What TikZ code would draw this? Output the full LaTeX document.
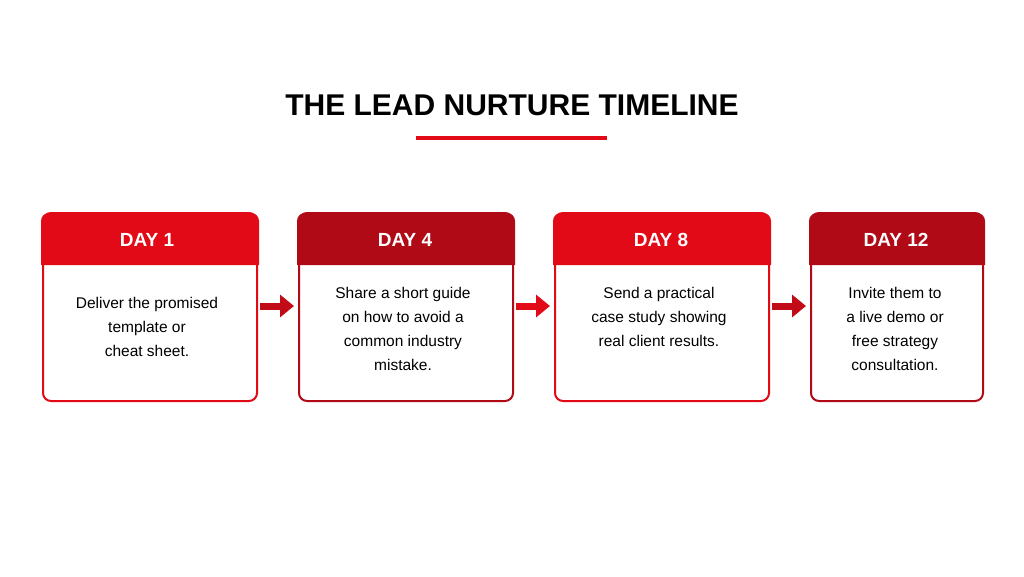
\documentclass[tikz,border=0pt]{standalone}
\usepackage{fontspec}
\setmainfont{Liberation Sans}
\definecolor{rA}{HTML}{E30A17}
\definecolor{rB}{HTML}{B00A16}
\definecolor{rC}{HTML}{C20A18}
\begin{document}
\begin{tikzpicture}[x=1pt,y=-1pt,
  card/.style={draw=#1,line width=2pt,rounded corners=8pt,fill=white,inner sep=0pt},
  head/.style={font=\bfseries\fontsize{19}{22}\selectfont,text=white},
  body/.style={font=\fontsize{15.5}{24}\selectfont,align=center,text=black},
  arr/.style={draw=#1,line width=7pt,-{Triangle[length=14pt,width=22pt]}, shorten <=0pt}]
\usetikzlibrary{arrows.meta}
\useasboundingbox (0,0) rectangle (1024,576);
\node[font=\bfseries\fontsize{30}{34}\selectfont] (title) at (512,105) {THE LEAD NURTURE TIMELINE};
\coordinate (u1) at (416,138); \coordinate (u2) at (607,138);
\draw[rA,line width=3.5pt] (u1) -- (u2);
\newcommand\mycard[7]{%
  \node[card=#2,minimum width=#4 pt,minimum height=188pt,anchor=north west] (#1) at (#3,212) {};
  \fill[#2,rounded corners=8pt] ([xshift=-1pt]#1.north west) -- ([xshift=1pt,yshift=-1pt]#1.north east) [sharp corners] -- ([xshift=1pt]#1.north east |- 0,265) -- ([xshift=-1pt]#1.north west |- 0,265) -- cycle;
  \fill[#2,rounded corners=8pt] ([xshift=-1pt,yshift=1pt]#1.north west) -- ([xshift=1pt,yshift=1pt]#1.north east) [sharp corners] -- ([xshift=1pt]#1.north east |- 0,265) -- ([xshift=-1pt]#1.north west |- 0,265) [rounded corners=8pt] -- cycle;
  \node[head] (#1h) at ([yshift=28pt]#1.north) {#5};
  \node[body] (#1b) at (#6,#7) {};
}
\node[card=rA,minimum width=214pt,minimum height=188pt,anchor=north west] (c1) at (42,212) {};
\node[card=rB,minimum width=214pt,minimum height=188pt,anchor=north west] (c2) at (298,212) {};
\node[card=rA,minimum width=214pt,minimum height=188pt,anchor=north west] (c3) at (554,212) {};
\node[card=rB,minimum width=172pt,minimum height=188pt,anchor=north west] (c4) at (810,212) {};
\foreach \c/\col in {c1/rA,c2/rB,c3/rA,c4/rB}{
  \fill[\col,rounded corners=8pt] ([shift={(-1pt,-1pt)}]\c.north west) -- ([shift={(1pt,-1pt)}]\c.north east) [sharp corners]-- ([xshift=1pt]\c.north east |- 0,265) -- ([xshift=-1pt]\c.north west |- 0,265) [rounded corners=8pt]-- cycle;
}
\node[head] (h1) at (147,240) {DAY 1};
\node[head] (h2) at (405,240) {DAY 4};
\node[head] (h3) at (661,240) {DAY 8};
\node[head] (h4) at (896,240) {DAY 12};
\node[body] (b1) at (147,327) {Deliver the promised\\template or\\cheat sheet.};
\node[body] (b2) at (403,329) {Share a short guide\\on how to avoid a\\common industry\\mistake.};
\node[body] (b3) at (659,317) {Send a practical\\case study showing\\real client results.};
\node[body] (b4) at (895,329) {Invite them to\\a live demo or\\free strategy\\consultation.};
\draw[arr=rC] ([xshift=2pt]c1.east|-0,306) -- ([xshift=-4pt]c2.west|-0,306);
\draw[arr=rA] ([xshift=2pt]c2.east|-0,306) -- ([xshift=-4pt]c3.west|-0,306);
\draw[arr=rC] ([xshift=2pt]c3.east|-0,306) -- ([xshift=-4pt]c4.west|-0,306);
\end{tikzpicture}
\end{document}
